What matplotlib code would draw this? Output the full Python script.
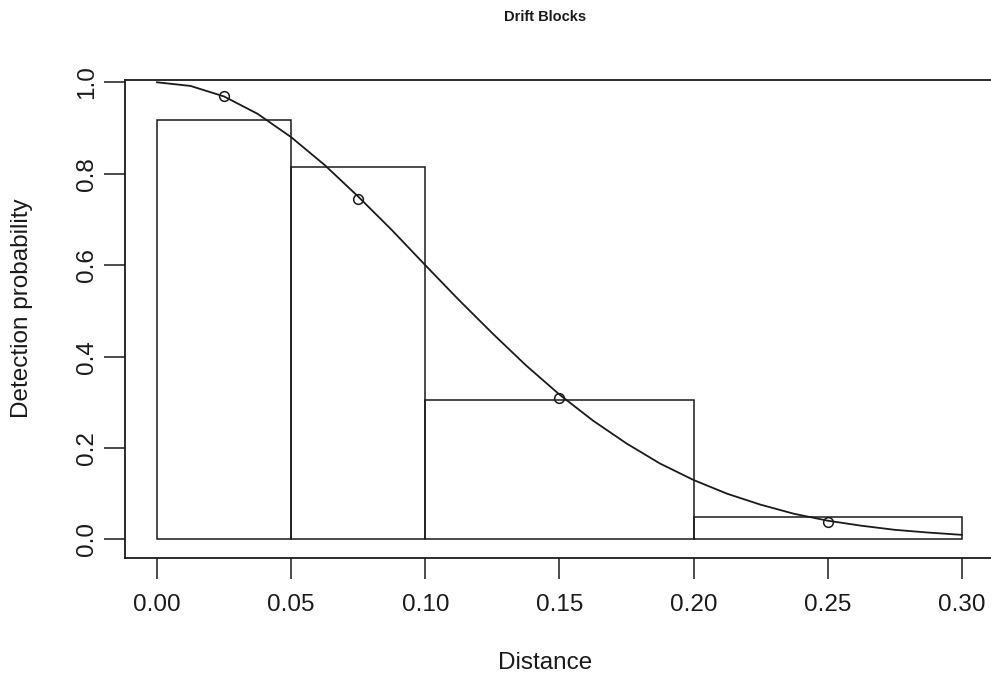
import matplotlib
matplotlib.use('Agg')
import matplotlib.pyplot as plt

plt.rcParams['font.family'] = ['Liberation Sans', 'DejaVu Sans']

# histogram of scaled detections
breaks = [0.0, 0.05, 0.10, 0.20, 0.30]
heights = [0.918, 0.815, 0.305, 0.050]

# fitted detection function
curve_x = [0, 0.0125, 0.025, 0.0375, 0.05, 0.0625, 0.075, 0.0875, 0.1, 0.1125,
           0.125, 0.1375, 0.15, 0.1625, 0.175, 0.1875, 0.2, 0.2125, 0.225, 0.2375,
           0.25, 0.2625, 0.275, 0.2875, 0.3]
curve_y = [1.000, 0.992, 0.969, 0.931, 0.880, 0.819, 0.750, 0.677, 0.600, 0.524,
           0.451, 0.381, 0.317, 0.260, 0.210, 0.166, 0.130, 0.100, 0.076, 0.056,
           0.041, 0.030, 0.021, 0.015, 0.010]

# points at interval midpoints
pt_x = [0.025, 0.075, 0.15, 0.25]
pt_y = [0.969, 0.745, 0.310, 0.038]

xticks = [0.00, 0.05, 0.10, 0.15, 0.20, 0.25, 0.30]
yticks = [0.0, 0.2, 0.4, 0.6, 0.8, 1.0]

W, H = 991, 677
fig = plt.figure(figsize=(W / 100, H / 100), dpi=100)
ax = fig.add_axes([124.8 / W, 1 - 557.7 / H, (994 - 124.8) / W, (557.7 - 80) / H])

col = '#1a1a1a'
lefts = breaks[:-1]
widths = [b - a for a, b in zip(breaks[:-1], breaks[1:])]
ax.bar(lefts, heights, width=widths, align='edge', facecolor='none',
       edgecolor=col, linewidth=1.1)
ax.plot(curve_x, curve_y, color=col, linewidth=1.3)
ax.plot(pt_x, pt_y, 'o', markerfacecolor='none', markeredgecolor=col,
        markersize=7, markeredgewidth=1.1)

ax.set_xlim(-0.012, 0.312)
ax.set_ylim(-0.04, 1.005)
ax.set_xticks(xticks)
ax.set_xticklabels(['%.2f' % v for v in xticks])
ax.set_yticks(yticks)
ax.set_yticklabels(['%.1f' % v for v in yticks], rotation=90, va='center')
ax.tick_params(direction='out', length=15, width=1.1, color=col, labelsize=17.5,
               labelcolor=col)
ax.tick_params(axis='x', pad=11)
ax.tick_params(axis='y', pad=4.5)
for s in ax.spines.values():
    s.set_linewidth(1.3)
    s.set_color(col)

fig.text(545 / W, 1 - 663 / H, 'Distance', ha='center', va='center', fontsize=17.5, color=col)
fig.text(22 / W, 1 - 308 / H, 'Detection probability', ha='center', va='center',
         rotation=90, fontsize=17.5, color=col)
fig.text(545 / W, 1 - 17 / H, 'Drift Blocks', ha='center', va='center',
         fontsize=10.5, fontweight='bold', color=col)

fig.savefig('out.png', dpi=100)
